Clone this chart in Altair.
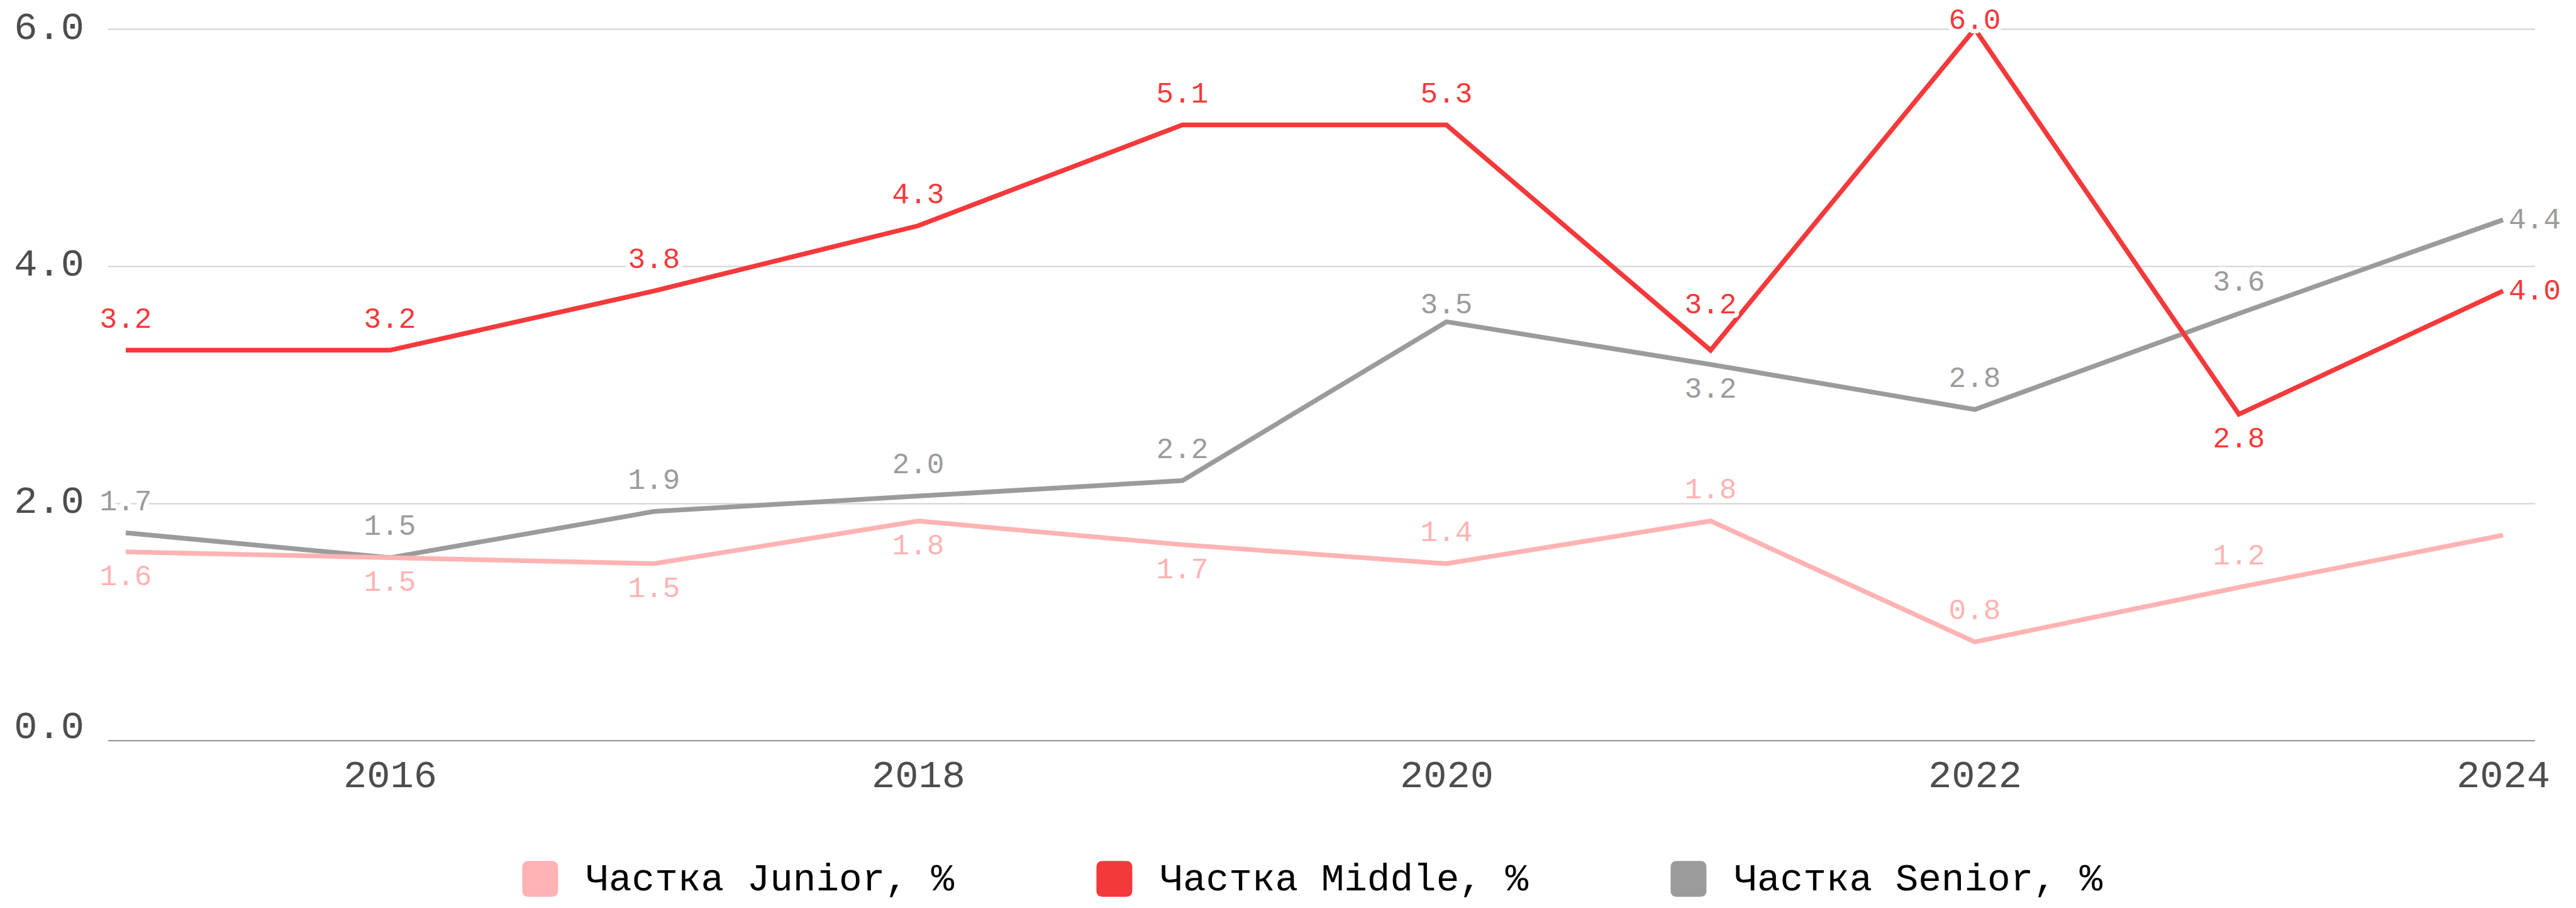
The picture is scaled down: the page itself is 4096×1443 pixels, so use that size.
import altair as alt
import pandas as pd

# ---------------- data ----------------
years = [2015, 2016, 2017, 2018, 2019, 2020, 2021, 2022, 2023, 2024]

series_names = ["Частка Junior, %", "Частка Middle, %", "Частка Senior, %"]
series_colors = ["#ffb3b3", "#f4393b", "#9b9b9b"]

junior = [1.59, 1.54, 1.49, 1.85, 1.65, 1.49, 1.85, 0.83, 1.29, 1.73]
middle = [3.29, 3.29, 3.79, 4.34, 5.19, 5.19, 3.29, 6.00, 2.75, 3.79]
senior = [1.75, 1.54, 1.93, 2.06, 2.19, 3.53, 3.17, 2.79, 3.60, 4.39]

junior_labels = ["1.6", "1.5", "1.5", "1.8", "1.7", "1.4", "1.8", "0.8", "1.2", ""]
middle_labels = ["3.2", "3.2", "3.8", "4.3", "5.1", "5.3", "3.2", "6.0", "2.8", "4.0"]
senior_labels = ["1.7", "1.5", "1.9", "2.0", "2.2", "3.5", "3.2", "2.8", "3.6", "4.4"]

# label placement relative to its point
junior_place = ["below", "below", "below", "below", "below", "above", "above", "above", "above", "none"]
middle_place = ["above", "above", "above", "above", "above", "above", "above_far", "top", "below", "right"]
senior_place = ["above", "above", "above", "above", "above", "above_near", "below", "above", "above", "right"]

x_ticks = [2016, 2018, 2020, 2022, 2024]
y_ticks = [0, 2, 4, 6]

# ---------------- tables ----------------
rows = []
for name, vals, labs, places in [
    (series_names[0], junior, junior_labels, junior_place),
    (series_names[1], middle, middle_labels, middle_place),
    (series_names[2], senior, senior_labels, senior_place),
]:
    for yr, v, lab, pl in zip(years, vals, labs, places):
        rows.append({"year": yr, "value": v, "series": name, "label": lab, "place": pl})
df = pd.DataFrame(rows)

# ---------------- styles ----------------
FONT = "Liberation Mono"
AXIS_COLOR = "#4d4d4d"
PLACE = {
    "above": dict(dx=0, dy=-50, align="center"),
    "above_far": dict(dx=0, dy=-73, align="center"),
    "above_near": dict(dx=0, dy=-27, align="center"),
    "top": dict(dx=0, dy=-14, align="center"),
    "below": dict(dx=0, dy=39, align="center"),
    "right": dict(dx=9, dy=0, align="left"),
}

color_scale = alt.Scale(domain=series_names, range=series_colors)
rounded_square = "M-0.65,-1L0.65,-1Q1,-1,1,-0.65L1,0.65Q1,1,0.65,1L-0.65,1Q-1,1,-1,0.65L-1,-0.65Q-1,-1,-0.65,-1Z"
legend = alt.Legend(
    title=None, orient="none", legendX=657, legendY=1320, direction="horizontal",
    symbolType=rounded_square, symbolSize=3249, symbolStrokeWidth=0, symbolOpacity=1,
    labelFont=FONT, labelFontSize=61, labelColor="#000000", labelOffset=42,
    columnPadding=224, padding=0, labelLimit=0,
)
color_enc = alt.Color("series:N", scale=color_scale, legend=legend)

x_enc = alt.X(
    "year:Q",
    scale=alt.Scale(domain=[2014.932, 2024.12], nice=False, zero=False),
    axis=alt.Axis(
        values=x_ticks, format="d", title=None, grid=False, ticks=False, tickSize=0,
        labelFont=FONT, labelFontSize=62, labelColor=AXIS_COLOR, labelPadding=25,
        labelFlush=False, domainColor="#9b9b9b", domainWidth=2.2,
    ),
)
y_enc = alt.Y(
    "value:Q",
    scale=alt.Scale(domain=[0, 6], nice=False),
    axis=alt.Axis(
        values=y_ticks, format=".1f", title=None, domain=False, ticks=False, tickSize=0,
        grid=True, gridColor="#d2d2d2", gridWidth=2.2,
        labelFont=FONT, labelFontSize=62, labelColor=AXIS_COLOR, labelPadding=38,
        labelOffset=-4,
        labelBaseline={"condition": {"test": "datum.value == 0", "value": "alphabetic"}, "value": "middle"},
    ),
)

base = alt.Chart(df)

layers = []
# invisible points carrying the filled legend symbols (first, so its symbol encoding is used)
layers.append(
    base.mark_point(filled=True, size=0, strokeWidth=0)
    .encode(x=x_enc, y=y_enc, color=color_enc)
)
# lines: senior under junior under middle
for name in [series_names[2], series_names[0], series_names[1]]:
    layers.append(
        base.transform_filter(alt.datum.series == name)
        .mark_line(strokeWidth=7.5)
        .encode(x="year:Q", y="value:Q", color=color_enc)
    )

# halo + value labels
for key, st in PLACE.items():
    sub = base.transform_filter((alt.datum.place == key) & (alt.datum.label != ""))
    layers.append(
        sub.mark_text(
            font=FONT, fontSize=46, baseline="middle", align=st["align"], dx=st["dx"], dy=st["dy"],
            color="white", stroke="white", strokeWidth=14, strokeJoin="round",
        ).encode(x="year:Q", y="value:Q", text="label:N")
    )
for key, st in PLACE.items():
    sub = base.transform_filter((alt.datum.place == key) & (alt.datum.label != ""))
    layers.append(
        sub.mark_text(
            font=FONT, fontSize=46, baseline="middle", align=st["align"], dx=st["dx"], dy=st["dy"],
        ).encode(x="year:Q", y="value:Q", text="label:N", color=color_enc)
    )

chart = (
    alt.layer(*layers)
    .properties(
        width=3859, height=1130.5,
        autosize=alt.AutoSizeParams(type="none"),
        padding={"left": 163.4, "top": 38, "right": 57.6, "bottom": 258.5},
        background="white",
    )
    .configure_view(strokeWidth=0)
)

chart.save("out.html", embed_options={"renderer": "svg", "actions": False})
